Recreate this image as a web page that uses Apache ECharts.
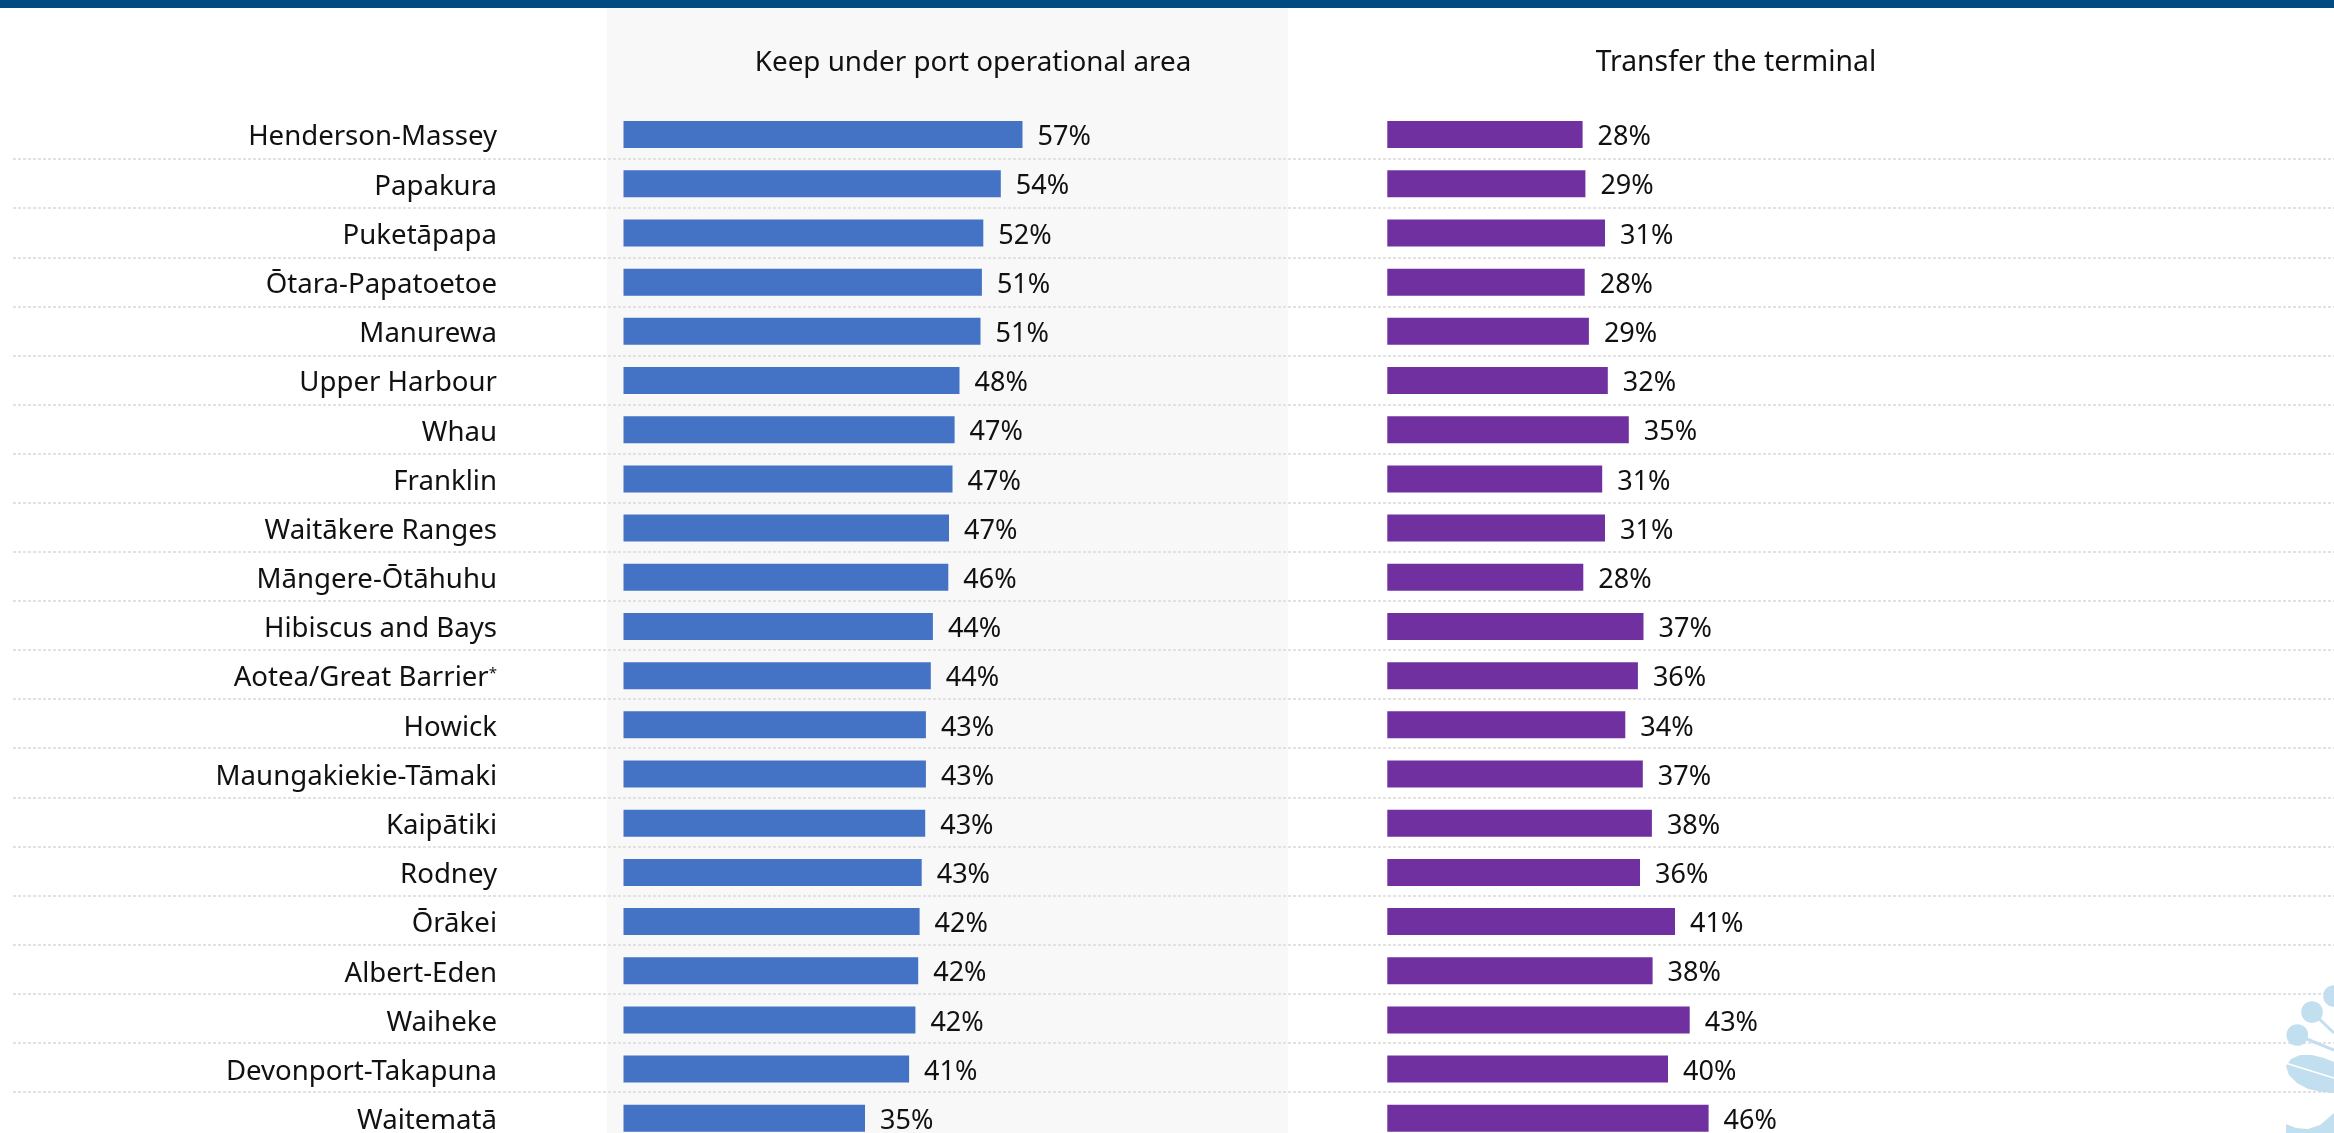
<!DOCTYPE html>
<html>
<head>
<meta charset="utf-8">
<style>
  html, body { margin: 0; padding: 0; background: #fff; }
  #chart { width: 2334px; height: 1133px; }
</style>
<script src="https://cdn.jsdelivr.net/npm/echarts@6/dist/echarts.min.js"></script>
</head>
<body>
<div id="chart"></div>
<script>
var boards = ['Henderson-Massey', 'Papakura', 'Puketāpapa', 'Ōtara-Papatoetoe', 'Manurewa', 'Upper Harbour', 'Whau', 'Franklin', 'Waitākere Ranges', 'Māngere-Ōtāhuhu', 'Hibiscus and Bays', 'Aotea/Great Barrier*', 'Howick', 'Maungakiekie-Tāmaki', 'Kaipātiki', 'Rodney', 'Ōrākei', 'Albert-Eden', 'Waiheke', 'Devonport-Takapuna', 'Waitematā'];

// bar lengths, labels as printed
var keepValues = [57.0, 53.9, 51.4, 51.2, 51.0, 48.0, 47.3, 47.0, 46.5, 46.4, 44.2, 43.9, 43.2, 43.2, 43.1, 42.6, 42.3, 42.1, 41.7, 40.8, 34.5];
var keepLabels = ['57%', '54%', '52%', '51%', '51%', '48%', '47%', '47%', '47%', '46%', '44%', '44%', '43%', '43%', '43%', '43%', '42%', '42%', '42%', '41%', '35%'];
var transferValues = [27.9, 28.3, 31.1, 28.2, 28.8, 31.5, 34.5, 30.7, 31.1, 28.0, 36.6, 35.8, 34.0, 36.5, 37.8, 36.1, 41.1, 37.9, 43.2, 40.1, 45.9];
var transferLabels = ['28%', '29%', '31%', '28%', '29%', '32%', '35%', '31%', '31%', '28%', '37%', '36%', '34%', '37%', '38%', '36%', '41%', '38%', '43%', '40%', '46%'];

var fontName = '"Noto Sans"';
var inkColor = '#111111';

var chart = echarts.init(document.getElementById('chart'));

function barLabel(labels) {
    return {
        show: true,
        position: 'right',
        distance: 15,
        offset: [0, 3],
        color: inkColor,
        fontFamily: fontName,
        fontSize: 27,
        formatter: function (p) { return labels[p.dataIndex]; }
    };
}

function hiddenValueAxis(gridIndex) {
    return { type: 'value', gridIndex: gridIndex, min: 0, max: 100, show: false };
}

var logoColor = '#c2dff0';

var option = {
    animation: false,
    backgroundColor: '#ffffff',
    title: [
        {
            text: 'Keep under port operational area',
            left: 968, top: 44, textAlign: 'center',
            textStyle: { fontFamily: fontName, fontSize: 27.8, fontWeight: 'normal', color: inkColor }
        },
        {
            text: 'Transfer the terminal',
            left: 1731, top: 44, textAlign: 'center',
            textStyle: { fontFamily: fontName, fontSize: 28.3, fontWeight: 'normal', color: inkColor }
        }
    ],
    graphic: [
        { type: 'rect', z: -2, shape: { x: 607, y: 8, width: 681, height: 1125 }, style: { fill: '#f8f8f8' } },
        { type: 'rect', z: 10, shape: { x: 0, y: 0, width: 2334, height: 8 }, style: { fill: '#004b7f' } },
        // logo in the corner
        { type: 'line', z: 1, shape: { x1: 2297, y1: 1035, x2: 2334, y2: 1050 }, style: { stroke: logoColor, lineWidth: 3 } },
        { type: 'line', z: 1, shape: { x1: 2312, y1: 1012, x2: 2334, y2: 1033 }, style: { stroke: logoColor, lineWidth: 3 } },
        { type: 'circle', z: 1, shape: { cx: 2297.3, cy: 1035, r: 10.8 }, style: { fill: logoColor } },
        { type: 'circle', z: 1, shape: { cx: 2312, cy: 1012, r: 10.8 }, style: { fill: logoColor } },
        { type: 'circle', z: 1, shape: { cx: 2334, cy: 996, r: 10.8 }, style: { fill: logoColor } },
        {
            type: 'polygon', z: 1,
            shape: { points: [[2286, 1066], [2291, 1059], [2300, 1055], [2312, 1055], [2324, 1058], [2334, 1062], [2334, 1093], [2322, 1092], [2308, 1089], [2297, 1083], [2289, 1075]] },
            style: { fill: logoColor }
        },
        { type: 'line', z: 2, shape: { x1: 2287, y1: 1063.5, x2: 2334, y2: 1078 }, style: { stroke: '#ffffff', lineWidth: 1.6 } },
        {
            type: 'polygon', z: 1,
            shape: { points: [[2286, 1124], [2296, 1128], [2308, 1129], [2320, 1125], [2334, 1113], [2334, 1133], [2286, 1133]] },
            style: { fill: logoColor }
        }
    ],
    grid: [
        { left: 623.5, top: 110, width: 700, height: 1032.9, outerBoundsMode: 'none' },
        { left: 1387.3, top: 110, width: 700, height: 1032.9, outerBoundsMode: 'none' },
        // dotted row separators, their pitch is a little tighter than the bars
        { left: 13, top: 110, width: 2321, height: 1030.9, outerBoundsMode: 'none' }
    ],
    xAxis: [hiddenValueAxis(0), hiddenValueAxis(1), hiddenValueAxis(2)],
    yAxis: [
        {
            type: 'category', gridIndex: 0, inverse: true, data: boards,
            axisLine: { show: false }, axisTick: { show: false }, splitLine: { show: false },
            axisLabel: {
                margin: 126.5,
                interval: 0,
                padding: [6, 0, 0, 0],
                color: inkColor,
                fontFamily: fontName,
                fontSize: 27.6,
                formatter: function (v) {
                    if (v.slice(-1) === '*') return v.slice(0, -1) + '{sup|*}';
                    return v;
                },
                rich: {
                    sup: { fontFamily: fontName, fontSize: 15, color: inkColor, padding: [0, 0, 10, 0] }
                }
            }
        },
        {
            type: 'category', gridIndex: 1, inverse: true, data: boards,
            axisLine: { show: false }, axisTick: { show: false }, axisLabel: { show: false }, splitLine: { show: false }
        },
        {
            type: 'category', gridIndex: 2, inverse: true, data: boards,
            axisLine: { show: false }, axisTick: { show: false }, axisLabel: { show: false },
            splitLine: {
                show: true, interval: 0, showMinLine: false,
                lineStyle: { color: '#e2e2e2', width: 2, type: [3, 2] }
            }
        }
    ],
    series: [
        {
            name: 'Keep under port operational area', type: 'bar', xAxisIndex: 0, yAxisIndex: 0,
            data: keepValues, barWidth: 27, itemStyle: { color: '#4472c4' }, label: barLabel(keepLabels)
        },
        {
            name: 'Transfer the terminal', type: 'bar', xAxisIndex: 1, yAxisIndex: 1,
            data: transferValues, barWidth: 27, itemStyle: { color: '#7030a0' }, label: barLabel(transferLabels)
        }
    ]
};

chart.setOption(option);
</script>
</body>
</html>
